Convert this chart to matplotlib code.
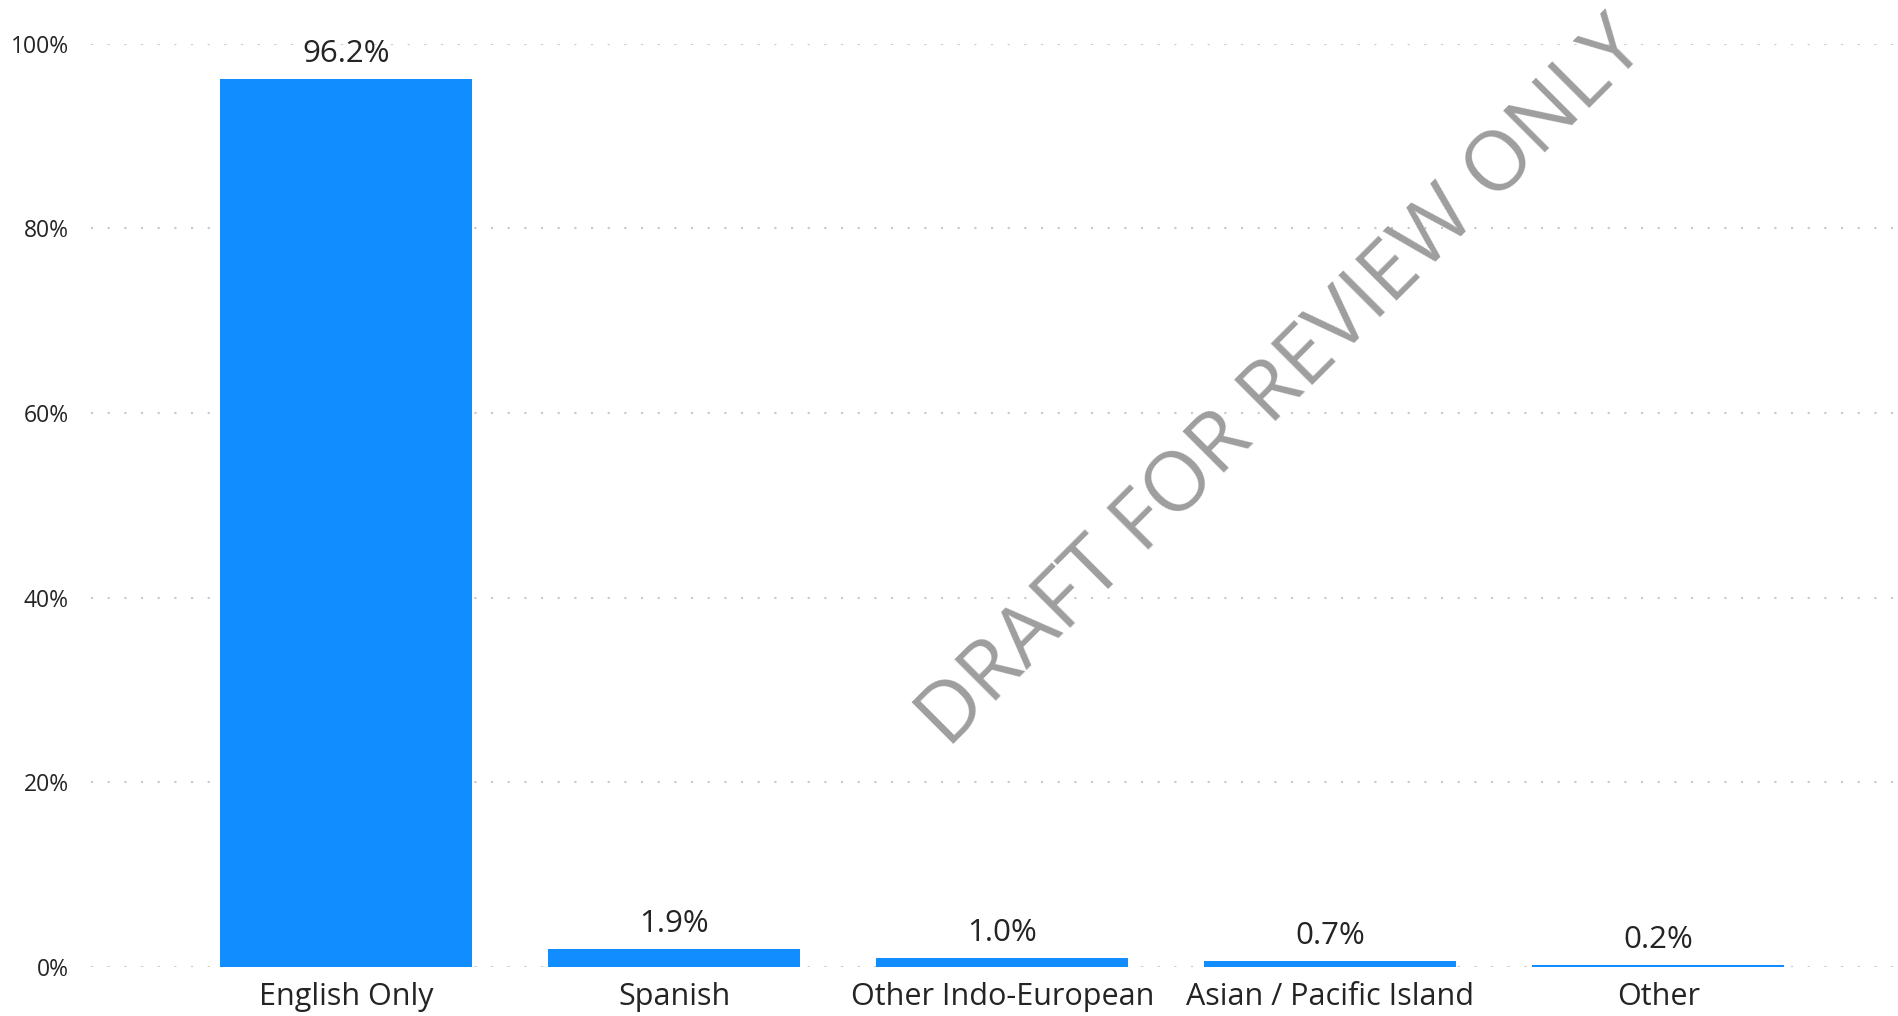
import matplotlib.pyplot as plt
from matplotlib.ticker import FuncFormatter

# data
languages = ["English Only", "Spanish", "Other Indo-European", "Asian / Pacific Island", "Other"]
shares = [96.2, 1.9, 1.0, 0.7, 0.2]
yticks = [0, 20, 40, 60, 80, 100]

plt.rcParams['font.family'] = ['Open Sans', 'DejaVu Sans']

fig = plt.figure(figsize=(18.98, 10.16), dpi=100)
ax = fig.add_axes([91/1898, 1 - 967/1016, 1 - 91/1898, (967 - 43.6)/1016])

x = list(range(len(languages)))
bars = ax.bar(x, shares, width=0.768, color="#118DFF", zorder=2)

for xi, v in zip(x, shares):
	ax.annotate(f'{v:.1f}%', (xi, v), xytext=(0, 18), textcoords='offset points',
		ha='center', va='center', fontsize=22.5, color='#252423', clip_on=False)

ax.set_xlim(-0.777, 4.73)
ax.set_ylim(0, 100)
ax.set_xticks(x)
ax.set_xticklabels(languages, fontsize=22, color='#252423')
ax.set_yticks(yticks)
ax.yaxis.set_major_formatter(FuncFormatter(lambda v, p: f'{int(v)}%'))
ax.tick_params(axis='y', length=0, pad=16, labelsize=16.5, labelcolor='#252423')
ax.tick_params(axis='x', length=0, pad=11)

ax.grid(axis='y', color='#c8c8c8', linestyle=(0, (1, 7)), linewidth=1.5, zorder=0)
for s in ax.spines.values():
	s.set_visible(False)

# watermark
fig.text(0.676, 0.622, 'DRAFT FOR REVIEW ONLY', rotation=45, fontsize=60,
	color='#9e9e9e', ha='center', va='center', rotation_mode='anchor')

fig.savefig('out.png', dpi=100)
